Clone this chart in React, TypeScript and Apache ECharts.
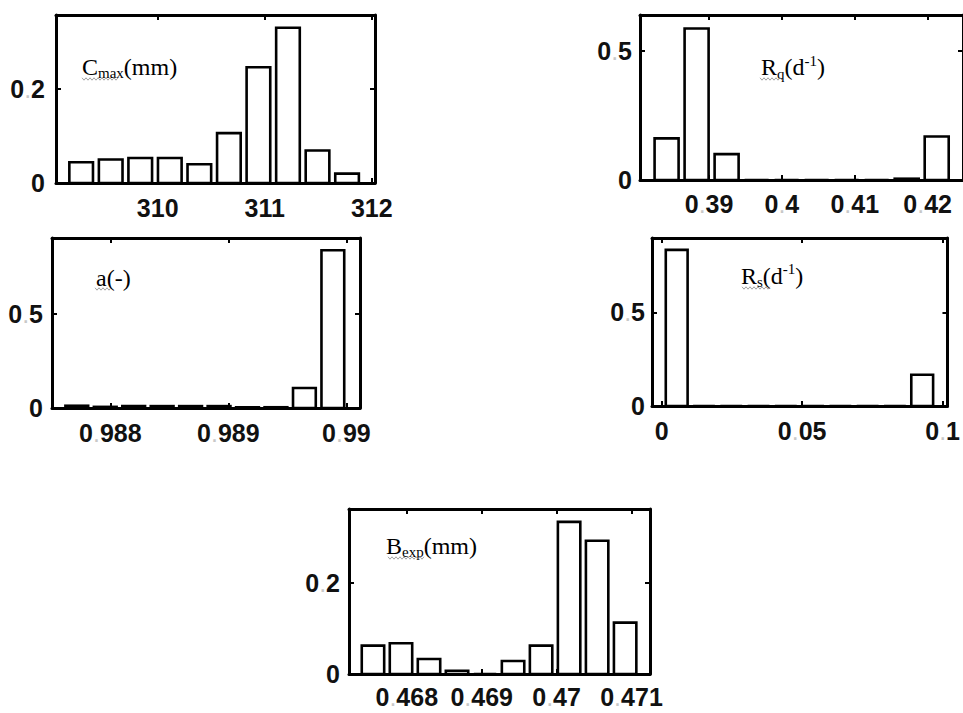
import React, { useEffect, useRef } from "react";
import * as echarts from "echarts";

// ---------- data ----------
const cmaxCenters = [309.285, 309.561, 309.837, 310.113, 310.389, 310.665, 310.941, 311.217, 311.493, 311.769];
const cmaxValues = [0.044, 0.05, 0.053, 0.053, 0.04, 0.106, 0.246, 0.33, 0.069, 0.02];
const cmaxBinWidth = 0.276;
const cmaxXTicks = [310, 311, 312];
const cmaxYTicks = [0, 0.2];

const rqCenters = [0.38417, 0.38829, 0.39241, 0.39653, 0.40065, 0.40477, 0.40889, 0.41301, 0.41713, 0.42125];
const rqValues = [0.161, 0.586, 0.1, 0, 0, 0, 0, 0, 0.005, 0.168];
const rqBinWidth = 0.00412;
const rqXTicks = [0.39, 0.4, 0.41, 0.42];
const rqYTicks = [0, 0.5];

const alphaCenters = [0.987716, 0.987957, 0.988198, 0.988439, 0.98868, 0.988921, 0.989162, 0.989403, 0.989644, 0.989885];
const alphaValues = [0.012, 0.006, 0.01, 0.01, 0.01, 0.01, 0.004, 0.004, 0.106, 0.836];
const alphaBinWidth = 0.000241;
const alphaXTicks = [0.988, 0.989, 0.99];
const alphaYTicks = [0, 0.5];

const rsCenters = [0.00534, 0.01505, 0.02476, 0.03447, 0.04418, 0.05389, 0.0636, 0.07331, 0.08302, 0.09273];
const rsValues = [0.833, 0, 0, 0, 0, 0, 0, 0, 0, 0.167];
const rsBinWidth = 0.00971;
const rsXTicks = [0, 0.05, 0.1];
const rsYTicks = [0, 0.5];

const bexpCenters = [0.467549, 0.467923, 0.468297, 0.468671, 0.469045, 0.469419, 0.469793, 0.470167, 0.470541, 0.470915];
const bexpValues = [0.0625, 0.0676, 0.033, 0.007, 0, 0.0287, 0.0625, 0.3346, 0.293, 0.113];
const bexpBinWidth = 0.000374;
const bexpXTicks = [0.468, 0.469, 0.47, 0.471];
const bexpYTicks = [0, 0.2];

// ---------- layout ----------
const panels = [
  { name: "Cmax", centers: cmaxCenters, values: cmaxValues, bw: cmaxBinWidth, xTicks: cmaxXTicks, yTicks: cmaxYTicks,
    grid: { left: 56, top: 15, width: 319, height: 168 }, xMin: 309.05, xMax: 312.03, yMax: 0.357, xMargin: 12, yMargin: 11 },
  { name: "Rq", centers: rqCenters, values: rqValues, bw: rqBinWidth, xTicks: rqXTicks, yTicks: rqYTicks,
    grid: { left: 640, top: 15, width: 325, height: 165 }, xMin: 0.38052, xMax: 0.42486, yMax: 0.638, xMargin: 11.5, yMargin: 8 },
  { name: "alpha", centers: alphaCenters, values: alphaValues, bw: alphaBinWidth, xTicks: alphaXTicks, yTicks: alphaYTicks,
    grid: { left: 52, top: 238, width: 308, height: 170 }, xMin: 0.987506, xMax: 0.990115, yMax: 0.901, xMargin: 12, yMargin: 9 },
  { name: "Rs", centers: rsCenters, values: rsValues, bw: rsBinWidth, xTicks: rsXTicks, yTicks: rsYTicks,
    grid: { left: 652, top: 238, width: 305, height: 168 }, xMin: -0.00345, xMax: 0.10172, yMax: 0.8965, xMargin: 12, yMargin: 7 },
  { name: "Bexp", centers: bexpCenters, values: bexpValues, bw: bexpBinWidth, xTicks: bexpXTicks, yTicks: bexpYTicks,
    grid: { left: 349, top: 509, width: 301, height: 165 }, xMin: 0.467229, xMax: 0.471247, yMax: 0.363, xMargin: 10.5, yMargin: 9 },
];

const TICK_FONT = "'Liberation Sans', Arial, sans-serif";
const SERIF = "'Liberation Serif', 'Times New Roman', serif";

const tickRich = {
  d: { fontSize: 25, fontFamily: TICK_FONT, color: "#111", fontWeight: "bold" },
  p: { fontSize: 25, fontFamily: TICK_FONT, color: "#c8c8c8", fontWeight: "normal" },
};
const fmt = (v: number) => {
  const s = String(v);
  const parts = s.split(".");
  return parts.length > 1 ? `{d|${parts[0]}}{p|.}{d|${parts[1]}}` : `{d|${s}}`;
};

const labelRich = {
  m: { fontSize: 24, fontFamily: SERIF, color: "#111", lineHeight: 28, verticalAlign: "middle" },
  s: { fontSize: 15, fontFamily: SERIF, color: "#111", lineHeight: 15, verticalAlign: "bottom" },
  u: { fontSize: 15, fontFamily: SERIF, color: "#111", lineHeight: 15, verticalAlign: "top" },
};
const panelLabels = [
  { text: "{m|C}{s|max}{m|(mm)}", x: 82, y: 66.5, sq: [82, 118, 79] },
  { text: "{m|R}{s|q}{m|(d}{u|-1}{m|)}", x: 761, y: 67, sq: [760, 782, 79] },
  { text: "{m|a(-)}", x: 96, y: 277.5, sq: [95, 112, 289] },
  { text: "{m|R}{s|s}{m|(d}{u|-1}{m|)}", x: 741, y: 275.5, sq: [742, 770, 288] },
  { text: "{m|B}{s|exp}{m|(mm)}", x: 386, y: 545.5, sq: [388, 425, 558] },
];

function squiggle(x0: number, x1: number, y: number) {
  const pts: number[][] = [];
  let up = true;
  for (let x = x0; x <= x1; x += 2) {
    pts.push([x, y + (up ? -1.2 : 1.2)]);
    up = !up;
  }
  return pts;
}

export default function App() {
  const ref = useRef<HTMLDivElement>(null);
  useEffect(() => {
    if (!ref.current) return;
    const chart = echarts.init(ref.current, null, { renderer: "svg" });
    const grids: any[] = [];
    const xAxes: any[] = [];
    const yAxes: any[] = [];
    const series: any[] = [];
    const axisLine = { show: true, onZero: false, lineStyle: { color: "#000", width: 3 } };
    panels.forEach((p, i) => {
      grids.push({ ...p.grid, containLabel: false });
      const baseX = {
        type: "value", gridIndex: i, min: p.xMin, max: p.xMax, splitLine: { show: false }, axisLine,
        axisTick: { show: true, inside: true, length: 5, lineStyle: { color: "#000", width: 2 }, customValues: p.xTicks },
      };
      xAxes.push({ ...baseX, position: "bottom",
        axisLabel: { show: true, customValues: p.xTicks, margin: p.xMargin, formatter: fmt, rich: tickRich, fontSize: 25, fontFamily: TICK_FONT } });
      xAxes.push({ ...baseX, position: "top", axisLabel: { show: false } });
      const baseY = {
        type: "value", gridIndex: i, min: 0, max: p.yMax, splitLine: { show: false }, axisLine,
        axisTick: { show: true, inside: true, length: 5, lineStyle: { color: "#000", width: 2 }, customValues: p.yTicks },
      };
      yAxes.push({ ...baseY, position: "left",
        axisLabel: { show: true, customValues: p.yTicks, margin: p.yMargin, formatter: fmt, rich: tickRich, fontSize: 25, fontFamily: TICK_FONT } });
      yAxes.push({ ...baseY, position: "right", axisLabel: { show: false } });
      series.push({
        type: "custom", xAxisIndex: i * 2, yAxisIndex: i * 2, clip: false,
        data: p.centers.map((c, k) => [c, p.values[k], p.bw]),
        renderItem: (_params: any, api: any) => {
          const c = api.value(0), v = api.value(1), w = api.value(2);
          const a = api.coord([c - w * 0.4, 0]);
          const b = api.coord([c + w * 0.4, v]);
          return {
            type: "rect",
            shape: { x: a[0], y: b[1], width: b[0] - a[0], height: a[1] - b[1] },
            style: { fill: "#fff", stroke: "#000", lineWidth: 2.6 },
          };
        },
      });
    });
    const graphic: any[] = [];
    panelLabels.forEach((l) => {
      graphic.push({ type: "text", x: l.x, y: l.y, z: 10,
        style: { text: l.text, rich: labelRich, verticalAlign: "middle", align: "left" } });
      graphic.push({ type: "polyline", z: 10, shape: { points: squiggle(l.sq[0], l.sq[1], l.sq[2]) },
        style: { stroke: "#8a8a8a", lineWidth: 0.8, fill: "none" } });
    });
    chart.setOption({
      animation: false,
      backgroundColor: "#fff",
      grid: grids,
      xAxis: xAxes,
      yAxis: yAxes,
      series,
      graphic,
    });
    return () => chart.dispose();
  }, []);
  return <div ref={ref} style={{ position: "absolute", left: 0, top: 0, width: 963, height: 713 }} />;
}
